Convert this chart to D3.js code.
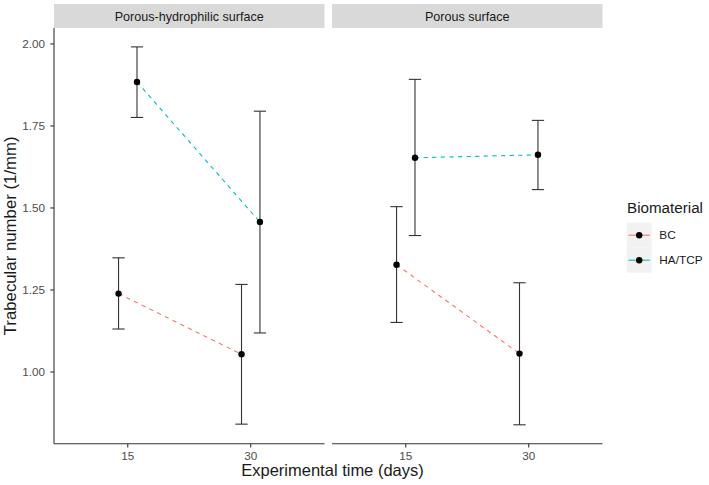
<!DOCTYPE html>
<html><head><meta charset="utf-8">
<script src="https://cdn.jsdelivr.net/npm/d3@7"></script>
<style>body{margin:0;background:#fff}svg text{font-family:"Liberation Sans",Arial,Helvetica,sans-serif}</style>
</head><body><svg id="c" width="709" height="485"></svg>
<script>
const panels = ["Porous-hydrophilic surface", "Porous surface"];
const times = ["15", "30"];
const materials = ["BC", "HA/TCP"];
const colors = ["#F8766D", "#00BFC4"];
// [panel][time]
const bcMean = [[1.239, 1.054], [1.327, 1.056]];
const bcLow  = [[1.131, 0.841], [1.151, 0.839]];
const bcHigh = [[1.348, 1.267], [1.504, 1.272]];
const haMean = [[1.884, 1.457], [1.653, 1.662]];
const haLow  = [[1.776, 1.119], [1.416, 1.556]];
const haHigh = [[1.991, 1.795], [1.892, 1.767]];
const yTicks = [1.00, 1.25, 1.50, 1.75, 2.00];

(function(){
const svg = d3.select("#c");
const plotTop = 28, plotBottom = 443.7, panelW = 270.5, panelGap = 7.5, left = 54;
const stripTop = 4;

const allLo = d3.min([...bcLow.flat(), ...haLow.flat()]);
const allHi = d3.max([...bcHigh.flat(), ...haHigh.flat()]);
const span = allHi - allLo;
const y = d3.scaleLinear().domain([allLo - 0.05*span, allHi + 0.05*span]).range([plotBottom, plotTop]);

const series = [
  {name: materials[0], color: colors[0], mean: bcMean, lo: bcLow, hi: bcHigh, off: -0.075},
  {name: materials[1], color: colors[1], mean: haMean, lo: haLow, hi: haHigh, off: 0.075}
];

panels.forEach((p, pi) => {
  const x0 = left + pi*(panelW + panelGap);
  const x = d3.scaleLinear().domain([0.4, 2.6]).range([x0, x0 + panelW]);
  const g = svg.append("g");
  g.append("rect").attr("x", x0).attr("y", stripTop).attr("width", panelW).attr("height", plotTop - stripTop).attr("fill", "#D9D9D9");
  g.append("text").attr("x", x0 + panelW/2).attr("y", 21).attr("text-anchor", "middle")
    .attr("font-size", "12.6px").attr("fill", "#1A1A1A").text(p);
  const xa = g.append("g");
  xa.append("line").attr("x1", x0).attr("x2", x0 + panelW).attr("y1", plotBottom).attr("y2", plotBottom).attr("stroke", "#333").attr("stroke-width", 1.1);
  times.forEach((t, ti) => {
    const xx = x(ti + 1);
    xa.append("line").attr("x1", xx).attr("x2", xx).attr("y1", plotBottom).attr("y2", plotBottom + 3.7).attr("stroke", "#333").attr("stroke-width", 1.1);
    xa.append("text").attr("x", xx).attr("y", 460.3).attr("text-anchor", "middle").attr("font-size", "11.7px").attr("fill", "#4D4D4D").text(t);
  });
  series.forEach(s => {
    const pts = times.map((t, ti) => [x(ti + 1 + s.off), y(s.mean[pi][ti])]);
    g.append("path").attr("d", d3.line()(pts)).attr("fill", "none").attr("stroke", s.color)
      .attr("stroke-width", 1.1).attr("stroke-dasharray", "4.3,4.3");
  });
  series.forEach(s => {
    times.forEach((t, ti) => {
      const xc = x(ti + 1 + s.off), hw = x(0.05) - x(0);
      const lo = y(s.lo[pi][ti]), hi = y(s.hi[pi][ti]);
      const eb = g.append("g").attr("stroke", "#333").attr("stroke-width", 1.1);
      eb.append("line").attr("x1", xc).attr("x2", xc).attr("y1", lo).attr("y2", hi);
      eb.append("line").attr("x1", xc - hw).attr("x2", xc + hw).attr("y1", lo).attr("y2", lo);
      eb.append("line").attr("x1", xc - hw).attr("x2", xc + hw).attr("y1", hi).attr("y2", hi);
    });
  });
  series.forEach(s => {
    times.forEach((t, ti) => {
      g.append("circle").attr("cx", x(ti + 1 + s.off)).attr("cy", y(s.mean[pi][ti])).attr("r", 3.2).attr("fill", "#000");
    });
  });
});

const ya = svg.append("g");
ya.append("line").attr("x1", left).attr("x2", left).attr("y1", plotTop).attr("y2", plotBottom).attr("stroke", "#333").attr("stroke-width", 1.1);
yTicks.forEach(v => {
  ya.append("line").attr("x1", left - 3.7).attr("x2", left).attr("y1", y(v)).attr("y2", y(v)).attr("stroke", "#333").attr("stroke-width", 1.1);
  ya.append("text").attr("x", 45).attr("y", y(v) + 4.2).attr("text-anchor", "end").attr("font-size", "11.7px").attr("fill", "#4D4D4D").text(d3.format(".2f")(v));
});

svg.append("text").attr("x", 332.5).attr("y", 476).attr("text-anchor", "middle")
  .attr("font-size", "16.5px").attr("fill", "#1A1A1A").text("Experimental time (days)");
svg.append("text").attr("transform", `translate(16,${(plotTop + plotBottom)/2}) rotate(-90)`).attr("text-anchor", "middle")
  .attr("font-size", "16.8px").attr("fill", "#1A1A1A").text("Trabecular number (1/mm)");

const lg = svg.append("g");
lg.append("text").attr("x", 627).attr("y", 213).attr("font-size", "15.2px").attr("fill", "#1A1A1A").text("Biomaterial");
series.forEach((s, i) => {
  const ky = 222.7 + i*25;
  lg.append("rect").attr("x", 626.7).attr("y", ky).attr("width", 25).attr("height", 25).attr("fill", "#F2F2F2");
  lg.append("line").attr("x1", 628.5).attr("x2", 649.9).attr("y1", ky + 12.5).attr("y2", ky + 12.5).attr("stroke", s.color).attr("stroke-width", 1.1);
  lg.append("circle").attr("cx", 639.2).attr("cy", ky + 12.5).attr("r", 3.2).attr("fill", "#000");
  lg.append("text").attr("x", 659.3).attr("y", ky + 12.5 + 4.2).attr("font-size", "11.8px").attr("fill", "#1A1A1A").text(s.name);
});
})();
</script></body></html>
